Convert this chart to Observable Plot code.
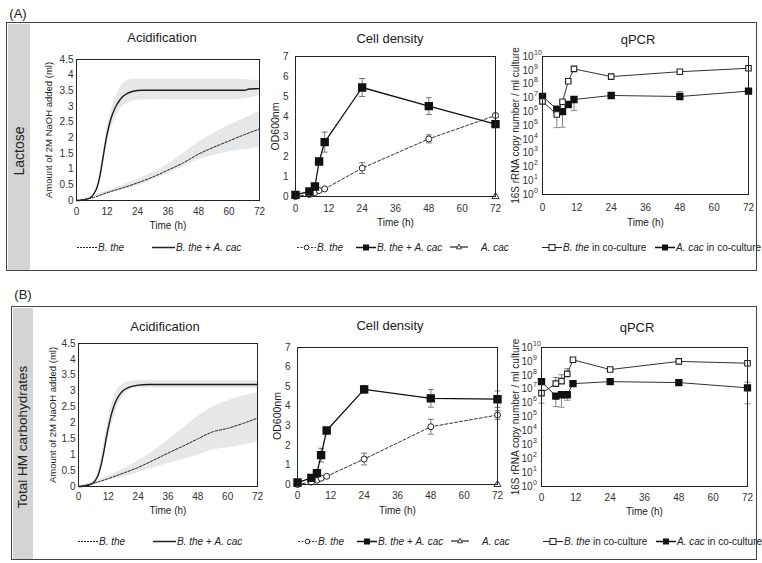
<!DOCTYPE html>
<html><head><meta charset="utf-8">
<script src="https://cdn.jsdelivr.net/npm/d3@7"></script>
<script src="https://cdn.jsdelivr.net/npm/@observablehq/plot@0.6"></script>
<style>
body{margin:0;background:#fff;font-family:"Liberation Sans",Arial,sans-serif;}
#page{position:relative;width:762px;height:563px;overflow:hidden;background:#fff;}
.box{position:absolute;border:1.5px solid #444;box-sizing:border-box;}
.strip{position:absolute;background:#d4d4d4;}
.txt{position:absolute;color:#222;white-space:nowrap;transform:translate(-50%,-50%);line-height:1;}
.rot{position:absolute;color:#222;white-space:nowrap;transform:translate(-50%,-50%) rotate(-90deg);line-height:1;}
.leg{position:absolute;font-size:10px;color:#222;display:flex;align-items:center;white-space:nowrap;transform:translateY(-50%);}
.leg svg{display:block;margin-right:1px;}
</style></head>
<body><div id="page"></div>
<script>
// ---------- Acidification (A: Lactose) ----------
const acidA_coTime = [0,2,4,6,7,8,9,10,11,12,13,14,15,16,17,18,20,22,24,26,36,48,60,66,68,72];
const acidA_co     = [0,0.01,0.04,0.12,0.24,0.4,0.7,1.15,1.65,2.1,2.45,2.72,2.92,3.08,3.2,3.3,3.42,3.48,3.51,3.52,3.52,3.52,3.52,3.52,3.56,3.57];
const acidA_coBandTime = [0,6,8,10,12,14,16,18,20,22,24,36,48,60,66,72];
const acidA_coHi   = [0,0.13,0.45,1.3,2.3,2.95,3.4,3.7,3.83,3.87,3.88,3.88,3.88,3.88,3.86,3.82];
const acidA_coLo   = [0,0.1,0.33,0.95,1.75,2.4,2.75,2.98,3.1,3.16,3.2,3.22,3.22,3.22,3.25,3.35];
const acidA_monoTime = [0,6,12,18,24,30,36,42,48,54,60,66,72];
const acidA_mono     = [0,0.08,0.25,0.4,0.56,0.75,0.97,1.2,1.48,1.7,1.9,2.1,2.28];
const acidA_monoBandTime = [0,12,24,36,48,60,66,72];
const acidA_monoHi = [0,0.3,0.68,1.15,1.85,2.4,2.62,2.85];
const acidA_monoLo = [0,0.2,0.47,0.85,1.3,1.55,1.62,1.68];

// ---------- Acidification (B: Total HM carbohydrates) ----------
const acidB_coTime = [0,2,4,6,7,8,9,10,11,12,13,14,15,16,17,18,20,22,24,28,72];
const acidB_co     = [0,0.01,0.04,0.12,0.22,0.38,0.65,1.02,1.45,1.85,2.2,2.47,2.68,2.83,2.94,3.02,3.11,3.16,3.19,3.21,3.21];
const acidB_coBandTime = [0,6,8,10,12,14,16,18,20,24,72];
const acidB_coHi   = [0,0.16,0.52,1.3,2.15,2.75,3.08,3.24,3.3,3.33,3.33];
const acidB_coLo   = [0,0.09,0.27,0.8,1.5,2.12,2.55,2.85,3.0,3.1,3.1];
const acidB_monoTime = [0,6,12,18,24,30,36,42,48,54,60,66,72];
const acidB_mono     = [0,0.1,0.25,0.42,0.6,0.82,1.05,1.27,1.5,1.72,1.83,1.98,2.15];
const acidB_monoBandTime = [0,12,24,36,48,54,60,66,72];
const acidB_monoHi = [0,0.32,0.8,1.45,2.2,2.5,2.7,2.85,2.95];
const acidB_monoLo = [0,0.18,0.43,0.72,0.98,1.15,1.22,1.3,1.4];

// ---------- Cell density (OD600) ----------
const cdTime = [0,5,7,8.5,10.5,24,48,72];
const cdA_co      = [0.08,0.25,0.5,1.75,2.72,5.45,4.52,3.62];
const cdA_coErr   = [0.04,0.05,0.05,0.1,0.5,0.45,0.42,0.1];
const cdA_mono    = [0,0.1,0.2,0.3,0.38,1.42,2.88,4.05];
const cdA_monoErr = [0,0.03,0.03,0.05,0.05,0.27,0.2,0.08];
const cdB_co      = [0.1,0.34,0.58,1.5,2.76,4.86,4.4,4.36];
const cdB_coErr   = [0.04,0.05,0.08,0.35,0.15,0.2,0.45,0.42];
const cdB_mono    = [0,0.12,0.22,0.32,0.42,1.3,2.95,3.55];
const cdB_monoErr = [0,0.03,0.03,0.05,0.05,0.3,0.38,0.22];
const cdCacTime = [0,72];
const cdA_cac = [0,0];
const cdB_cac = [0,0];

// ---------- qPCR (16S rRNA copies / ml) ----------
const qTime = [0,5,7,9,11,24,48,72];
const qA_bthe   = [5.6e6,6.3e5,5.2e6,1.6e8,1.26e9,3.5e8,7.9e8,1.4e9];
const qA_btheLo = [4.2e6,7e4,3.6e6,1.3e8,1.1e9,3.2e8,7e8,1.3e9];
const qA_btheHi = [8e6,1.2e6,7e6,2e8,1.5e9,3.8e8,9e8,1.5e9];
const qA_acac   = [1.3e7,1.5e6,1.0e6,3.3e6,7.6e6,1.5e7,1.26e7,3.1e7];
const qA_acacLo = [1.0e7,1.0e6,7.5e4,2.6e6,1.2e6,1.3e7,1.0e7,2.8e7];
const qA_acacHi = [1.6e7,2.2e6,1.5e6,4e6,1.0e7,1.7e7,2.9e7,3.4e7];
const qB_bthe   = [5.2e6,2.5e7,3.8e7,1.26e8,1.3e9,2.6e8,1.0e9,7.4e8];
const qB_btheLo = [1.0e6,1.8e7,2.8e7,1.0e8,1.1e9,2.2e8,9e8,6.5e8];
const qB_btheHi = [6.5e6,7e7,1.1e8,3e8,1.5e9,3e8,1.1e9,8.5e8];
const qB_acac   = [3.5e7,3.2e6,4e6,4e6,2.5e7,3.5e7,3e7,1.26e7];
const qB_acacLo = [3e7,5.6e5,5e5,1.6e6,2e7,3e7,2.5e7,9e5];
const qB_acacHi = [5e7,4.5e6,5.5e6,5.5e6,3e7,4e7,3.6e7,3.2e7];

// ---------- ticks ----------
const timeTicks = [0,12,24,36,48,60,72];
const acidTicks = [0,0.5,1,1.5,2,2.5,3,3.5,4,4.5];
const cdTicks = [0,1,2,3,4,5,6,7];
const qTicks = [1e0,1e1,1e2,1e3,1e4,1e5,1e6,1e7,1e8,1e9,1e10];

const FONT = '"Liberation Sans", Arial, sans-serif';
const page = document.getElementById("page");
const zip = (ts, vs) => ts.map((t,i)=>({t, v: vs[i]}));
const band = (ts, lo, hi) => ts.map((t,i)=>({t, lo: lo[i], hi: hi[i]}));
const errs = (ts, vs, e) => ts.map((t,i)=>({t, lo: vs[i]-e[i], hi: vs[i]+e[i]})).filter(d=>d.hi-d.lo>0.09);
const errs2 = (ts, lo, hi) => ts.map((t,i)=>({t, lo: lo[i], hi: hi[i]}));
const cap = {draw(ctx){ ctx.moveTo(-3,0); ctx.lineTo(3,0); }};

function place(cls, x, y, html, size) {
  const d = document.createElement("div");
  d.className = cls; d.style.left = x+"px"; d.style.top = y+"px";
  d.style.fontSize = size+"px"; d.innerHTML = html; page.appendChild(d);
}
function chart({frame, y, yTicks, yFormat, yPad, xPad, marks, ylabel, ylabelDx, ylabelSize, xlabelDy, extra = []}) {
  const ml = 50, mr = 10, mt = 10, mb = 40;
  const w = frame[1]-frame[0], h = frame[3]-frame[2];
  const svg = Plot.plot({
    width: w+ml+mr, height: h+mt+mb,
    marginLeft: ml, marginRight: mr, marginTop: mt, marginBottom: mb,
    style: {background: "transparent", fontFamily: FONT, fontSize: "10px", color: "#333", overflow: "visible"},
    x: {domain: [0,72]},
    y,
    marks: [
      ...marks,
      Plot.frame({stroke: "#222", strokeWidth: 1}),
      Plot.axisX({ticks: timeTicks, tickSize: 0, tickPadding: xPad, label: null, fontSize: 10, fill: "#333"}),
      Plot.axisY({ticks: yTicks, tickSize: 0, tickPadding: yPad, tickFormat: yFormat, label: null, fontSize: 10, fill: "#333"}),
      ...extra,
      Plot.text([ylabel], {text: d=>d, frameAnchor: "left", dx: ylabelDx, rotate: -90, textAnchor: "middle", lineAnchor: "middle", fontSize: ylabelSize, fill: "#222"}),
      Plot.text(["Time (h)"], {text: d=>d, frameAnchor: "bottom", dy: xlabelDy, textAnchor: "middle", lineAnchor: "middle", fontSize: 10, fill: "#222"})
    ]
  });
  svg.style.position = "absolute";
  svg.style.left = (frame[0]-ml)+"px";
  svg.style.top = (frame[2]-mt)+"px";
  page.appendChild(svg);
}

function acidMarks(coT, co, cbT, cLo, cHi, mT, mono, mbT, mLo, mHi) {
  return [
    Plot.areaY(band(mbT, mLo, mHi), {x: "t", y1: "lo", y2: "hi", fill: "#e6e7e9", curve: "monotone-x"}),
    Plot.areaY(band(cbT, cLo, cHi), {x: "t", y1: "lo", y2: "hi", fill: "#e6e7e9", curve: "monotone-x"}),
    Plot.line(zip(mT, mono), {x: "t", y: "v", stroke: "#222", strokeWidth: 1, strokeDasharray: "2.5,1.5", curve: "monotone-x"}),
    Plot.line(zip(coT, co), {x: "t", y: "v", stroke: "#1a1a1a", strokeWidth: 1.4, curve: "monotone-x"})
  ];
}
function cdMarks(co, coErr, mono, monoErr, cac) {
  const eCo = errs(cdTime, co, coErr), eMo = errs(cdTime, mono, monoErr);
  return [
    Plot.ruleX(eCo, {x: "t", y1: "lo", y2: "hi", stroke: "#555", strokeWidth: 0.8}),
    Plot.ruleX(eMo, {x: "t", y1: "lo", y2: "hi", stroke: "#555", strokeWidth: 0.8}),
    Plot.dot(eCo, {x: "t", y: "lo", symbol: cap, stroke: "#555", fill: "none", strokeWidth: 0.8}),
    Plot.dot(eCo, {x: "t", y: "hi", symbol: cap, stroke: "#555", fill: "none", strokeWidth: 0.8}),
    Plot.dot(eMo, {x: "t", y: "lo", symbol: cap, stroke: "#555", fill: "none", strokeWidth: 0.8}),
    Plot.dot(eMo, {x: "t", y: "hi", symbol: cap, stroke: "#555", fill: "none", strokeWidth: 0.8}),
    Plot.line(zip(cdCacTime, cac), {x: "t", y: "v", stroke: "#222", strokeWidth: 1}),
    Plot.line(zip(cdTime, mono), {x: "t", y: "v", stroke: "#333", strokeWidth: 1, strokeDasharray: "3,2"}),
    Plot.line(zip(cdTime, co), {x: "t", y: "v", stroke: "#111", strokeWidth: 1.3}),
    Plot.dot(zip(cdCacTime, cac), {x: "t", y: "v", symbol: "triangle", r: 2.6, fill: "white", stroke: "#222", strokeWidth: 0.9}),
    Plot.dot(zip(cdTime, mono), {x: "t", y: "v", symbol: "circle", r: 3, fill: "white", stroke: "#222", strokeWidth: 1}),
    Plot.dot(zip(cdTime, co), {x: "t", y: "v", symbol: "square", r: 3.9, fill: "#111", stroke: "#111"})
  ];
}
function qMarks(bt, btLo, btHi, ac, acLo, acHi) {
  const eB = errs2(qTime, btLo, btHi), eA = errs2(qTime, acLo, acHi);
  const m = [];
  for (const e of [eB, eA]) {
    m.push(Plot.ruleX(e, {x: "t", y1: "lo", y2: "hi", stroke: "#666", strokeWidth: 0.8}));
    m.push(Plot.dot(e, {x: "t", y: "lo", symbol: cap, stroke: "#666", fill: "none", strokeWidth: 0.8}));
    m.push(Plot.dot(e, {x: "t", y: "hi", symbol: cap, stroke: "#666", fill: "none", strokeWidth: 0.8}));
  }
  return [
    ...m,
    Plot.line(zip(qTime, ac), {x: "t", y: "v", stroke: "#333", strokeWidth: 1}),
    Plot.line(zip(qTime, bt), {x: "t", y: "v", stroke: "#333", strokeWidth: 1}),
    Plot.dot(zip(qTime, ac), {x: "t", y: "v", symbol: "square", r: 3.3, fill: "#111", stroke: "#111"}),
    Plot.dot(zip(qTime, bt), {x: "t", y: "v", symbol: "square", r: 3.1, fill: "white", stroke: "#222", strokeWidth: 1.1})
  ];
}
const qExtra = [
  Plot.text(qTicks, {y: d=>d, text: d=>String(Math.round(Math.log10(d))), frameAnchor: "left", dx: -8.5, dy: -4, textAnchor: "start", lineAnchor: "middle", fontSize: 7, fill: "#333"})
];

// ---------- panel frames ----------
function panel(top, left, bottom, label, labelY, side, sideSize, stripRight) {
  const b = document.createElement("div"); b.className = "box";
  b.style.left = left+"px"; b.style.top = top+"px";
  b.style.width = (757-left)+"px"; b.style.height = (bottom-top)+"px";
  page.appendChild(b);
  const s = document.createElement("div"); s.className = "strip";
  s.style.left = (left+1.5)+"px"; s.style.top = (top+1.5)+"px";
  s.style.width = (stripRight-left-1.5)+"px"; s.style.height = (bottom-top-3)+"px";
  page.appendChild(s);
  place("txt", left+12, labelY, label, 13);
  place("rot", (left+stripRight)/2 + 1, (top+bottom)/2 + 4, side, sideSize);
}
panel(22, 6, 271, "(A)", 13, "Lactose", 14, 30);
panel(306, 11, 560, "(B)", 294, "Total HM carbohydrates", 13.5, 33);

// ---------- titles ----------
place("txt", 162, 37, "Acidification", 13);
place("txt", 390, 38, "Cell density", 13);
place("txt", 638, 39, "qPCR", 13);
place("txt", 165, 326, "Acidification", 13);
place("txt", 390, 325, "Cell density", 13);
place("txt", 637, 327, "qPCR", 13);

// ---------- charts ----------
chart({frame: [76,259,59,200], y: {domain: [0,4.5]}, yTicks: acidTicks, yFormat: d=>String(d), yPad: 3, xPad: 7,
  marks: acidMarks(acidA_coTime, acidA_co, acidA_coBandTime, acidA_coLo, acidA_coHi, acidA_monoTime, acidA_mono, acidA_monoBandTime, acidA_monoLo, acidA_monoHi),
  ylabel: "Amount of 2M NaOH added (ml)", ylabelDx: -28, ylabelSize: 9.5, xlabelDy: 25});
chart({frame: [295,495,56,196], y: {domain: [0,7]}, yTicks: cdTicks, yFormat: d=>String(d), yPad: 7, xPad: 8,
  marks: cdMarks(cdA_co, cdA_coErr, cdA_mono, cdA_monoErr, cdA_cac),
  ylabel: "OD600nm", ylabelDx: -20, ylabelSize: 10.5, xlabelDy: 26});
chart({frame: [542,748,56,194], y: {type: "log", domain: [1,1e10]}, yTicks: qTicks, yFormat: ()=>"10", yPad: 9, xPad: 9,
  marks: qMarks(qA_bthe, qA_btheLo, qA_btheHi, qA_acac, qA_acacLo, qA_acacHi), extra: qExtra,
  ylabel: "16S rRNA copy number / ml culture", ylabelDx: -27, ylabelSize: 10, xlabelDy: 28});

chart({frame: [78,257,343,486], y: {domain: [0,4.5]}, yTicks: acidTicks, yFormat: d=>String(d), yPad: 3, xPad: 6,
  marks: acidMarks(acidB_coTime, acidB_co, acidB_coBandTime, acidB_coLo, acidB_coHi, acidB_monoTime, acidB_mono, acidB_monoBandTime, acidB_monoLo, acidB_monoHi),
  ylabel: "Amount of 2M NaOH added (ml)", ylabelDx: -26, ylabelSize: 9.5, xlabelDy: 24});
chart({frame: [297,497,347,484], y: {domain: [0,7]}, yTicks: cdTicks, yFormat: d=>String(d), yPad: 7, xPad: 7,
  marks: cdMarks(cdB_co, cdB_coErr, cdB_mono, cdB_monoErr, cdB_cac),
  ylabel: "OD600nm", ylabelDx: -20, ylabelSize: 10.5, xlabelDy: 26});
chart({frame: [541,747,347,486], y: {type: "log", domain: [1,1e10]}, yTicks: qTicks, yFormat: ()=>"10", yPad: 9, xPad: 7,
  marks: qMarks(qB_bthe, qB_btheLo, qB_btheHi, qB_acac, qB_acacLo, qB_acacHi), extra: qExtra,
  ylabel: "16S rRNA copy number / ml culture", ylabelDx: -26, ylabelSize: 10, xlabelDy: 25});

// ---------- legends ----------
const sw = {
  dash: '<svg width="20" height="10"><line x1="0" x2="20" y1="5" y2="5" stroke="#222" stroke-width="1" stroke-dasharray="2,1"/></svg>',
  solid: '<svg width="23" height="10"><line x1="0" x2="23" y1="5" y2="5" stroke="#222" stroke-width="1.4"/></svg>',
  circ: '<svg width="19" height="10"><line x1="0" x2="19" y1="5" y2="5" stroke="#333" stroke-dasharray="2,1.5"/><circle cx="9.5" cy="5" r="2.3" fill="#fff" stroke="#222"/></svg>',
  fsq: '<svg width="20" height="10"><line x1="0" x2="20" y1="5" y2="5" stroke="#111" stroke-width="1.3"/><rect x="7" y="2" width="6" height="6" fill="#111"/></svg>',
  tri: '<svg width="18" height="10"><line x1="0" x2="18" y1="5" y2="5" stroke="#222" stroke-width="1.2"/><path d="M9,2.2 L11.5,6.8 L6.5,6.8 Z" fill="#fff" stroke="#222" stroke-width="0.9"/></svg>',
  osq: '<svg width="20" height="10"><line x1="0" x2="20" y1="5" y2="5" stroke="#222" stroke-width="1.2"/><rect x="7" y="2" width="6" height="6" fill="#fff" stroke="#222"/></svg>'
};
function legendRow(y, dx) {
  const items = [
    [77, sw.dash, "<i>B. the</i>"],
    [152, sw.solid, "<i>B. the</i> + <i>A. cac</i>"],
    [297, sw.circ, "<i>B. the</i>"],
    [356, sw.fsq, "<i>B. the</i> + <i>A. cac</i>"],
    [450, sw.tri, ""],
    [542, sw.osq, "<i>B. the</i> in co-culture"],
    [655, sw.fsq, "<i>A. cac</i> in co-culture"]
  ];
  for (const [x, s, t] of items) {
    const d = document.createElement("div"); d.className = "leg";
    d.style.left = (x+dx)+"px"; d.style.top = y+"px";
    d.innerHTML = s + "<span>" + t + "</span>";
    page.appendChild(d);
  }
  const d = document.createElement("div"); d.className = "leg";
  d.style.left = (481+dx)+"px"; d.style.top = y+"px";
  d.innerHTML = "<span><i>A. cac</i></span>";
  page.appendChild(d);
}
legendRow(247, 0);
legendRow(541, 1);
</script>
</body></html>
